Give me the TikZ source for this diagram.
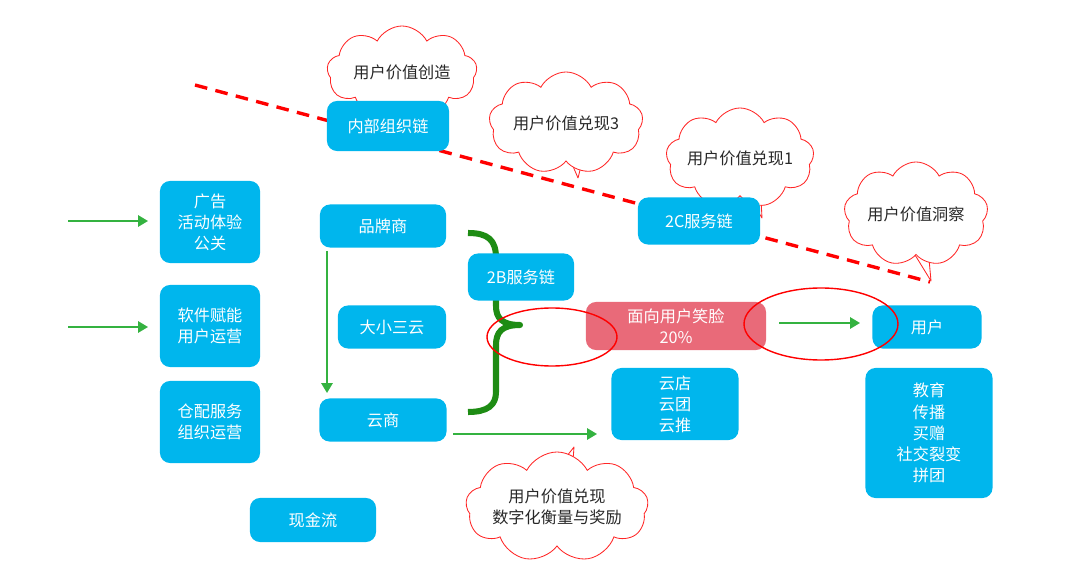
\documentclass[tikz,border=0pt]{standalone}
\usepackage{fontspec}
\setmainfont{Noto Sans CJK SC}
\usetikzlibrary{shapes.symbols,arrows.meta}
\definecolor{boxblue}{RGB}{0,182,237}
\definecolor{pinkred}{RGB}{233,106,121}
\definecolor{arrgreen}{RGB}{52,178,64}
\definecolor{bracegreen}{RGB}{30,140,20}
\definecolor{cloudtext}{RGB}{40,40,40}
\tikzset{
  bbox/.style={fill=boxblue, rounded corners=0.25cm, text=white, align=center, inner sep=0pt},
  pbox/.style={fill=pinkred, rounded corners=0.25cm, text=white, align=center, inner sep=0pt},
  cloudnode/.style={cloud, cloud puffs=9, cloud puff arc=125, cloud ignores aspect, draw=red!85!white, line width=0.6pt, fill=white, text=cloudtext, align=center, inner sep=0pt},
  tail/.style={draw=red!85!white, line width=0.6pt, fill=white, line join=round},
  garrow/.style={draw=arrgreen, line width=1.4pt, -{Triangle[length=7pt,width=8pt]}},
  redell/.style={draw=red, line width=1pt},
}
\begin{document}
\begin{tikzpicture}[x=0.025cm, y=-0.025cm, font=\fontsize{11.5}{15}\selectfont]
\useasboundingbox (0,0) rectangle (1080,570);

% dashed red line
\coordinate (dl1) at (195,85);
\coordinate (dl2) at (930,282);
\draw[red, line width=2.4pt, dash pattern=on 9pt off 6pt] (dl1) -- (dl2);

% cloud tails
\coordinate (t2) at (578,178);
\coordinate (t3) at (762,218);
\coordinate (t4) at (931,281);
\coordinate (t5) at (574,447);
\draw[tail] (566,150) -- (t2) -- (585,150) -- cycle;
\draw[tail] (742,185) -- (t3) -- (760,180) -- cycle;
\draw[tail] (912,250) -- (t4) -- (928,248) -- cycle;
\draw[tail] (552,475) -- (t5) -- (572,475) -- cycle;

% clouds
\node[cloudnode, minimum width=3.75cm, minimum height=2.3cm] (c1) at (402,72) {用户价值创造};
\node[cloudnode, minimum width=3.85cm, minimum height=2.55cm] (c2) at (566,123) {用户价值兑现3};
\node[cloudnode, minimum width=3.7cm, minimum height=2.5cm] (c3) at (740,158) {用户价值兑现1};
\node[cloudnode, minimum width=3.6cm, minimum height=2.6cm] (c4) at (916,214) {用户价值洞察};
\node[cloudnode, minimum width=4.5cm, minimum height=2.75cm] (c5) at (557,507) {用户价值兑现\\数字化衡量与奖励};

% brace (behind the 2B box)
\draw[bracegreen, line width=4.3pt, line join=round]
  (468,233) .. controls (488,233) and (496,240) .. (496,258) -- (496,306)
  .. controls (496,318) and (502,325) .. (520,325)
  .. controls (502,325) and (496,332) .. (496,345) -- (496,392)
  .. controls (496,405) and (488,412) .. (468,412);

% left boxes
\node[bbox, minimum width=2.5cm, minimum height=2.05cm] (b1) at (210,222) {广告\\活动体验\\公关};
\node[bbox, minimum width=2.5cm, minimum height=2.05cm] (b2) at (210,326) {软件赋能\\用户运营};
\node[bbox, minimum width=2.5cm, minimum height=2.05cm] (b3) at (210,422) {仓配服务\\组织运营};
\node[bbox, minimum width=3.15cm, minimum height=1.1cm] (cash) at (313,520) {现金流};

% middle boxes
\node[bbox, minimum width=3.15cm, minimum height=1.075cm] (brand) at (383,226) {品牌商};
\node[bbox, minimum width=2.7cm, minimum height=1.075cm] (dxsy) at (392,327) {大小三云};
\node[bbox, minimum width=3.175cm, minimum height=1.075cm] (ys) at (383,420) {云商};
\node[bbox, minimum width=3.05cm, minimum height=1.25cm] (nb) at (388,126) {内部组织链};
\node[bbox, minimum width=2.65cm, minimum height=1.175cm] (b2b) at (521,277) {2B服务链};
\node[bbox, minimum width=3.05cm, minimum height=1.175cm] (b2c) at (699,221) {2C服务链};
\node[pbox, minimum width=4.5cm, minimum height=1.2cm] (smile) at (676,326) {面向用户笑脸\\20\%};
\node[bbox, minimum width=3.175cm, minimum height=1.8cm] (yd) at (675,404) {云店\\云团\\云推};
\node[bbox, minimum width=2.725cm, minimum height=1.075cm] (user) at (927,327) {用户};
\node[bbox, minimum width=3.175cm, minimum height=3.25cm] (edu) at (929,433) {教育\\传播\\买赠\\社交裂变\\拼团};

% green arrows
\coordinate (a1s) at (68,221);
\coordinate (a1e) at (148,221);
\coordinate (a2s) at (68,327);
\coordinate (a2e) at (148,327);
\coordinate (vs) at (327,251);
\coordinate (ve) at (327,393);
\coordinate (a3s) at (453,434);
\coordinate (a3e) at (597,434);
\coordinate (a4s) at (779,323);
\coordinate (a4e) at (860,323);
\draw[garrow] (a1s) -- (a1e);
\draw[garrow] (a2s) -- (a2e);
\draw[garrow] (vs) -- (ve);
\draw[garrow] (a3s) -- (a3e);
\draw[garrow] (a4s) -- (a4e);

% red ellipses
\draw[redell] (552,337) ellipse [x radius=65, y radius=29];
\draw[redell] (821,324) ellipse [x radius=77, y radius=36];
\end{tikzpicture}
\end{document}
